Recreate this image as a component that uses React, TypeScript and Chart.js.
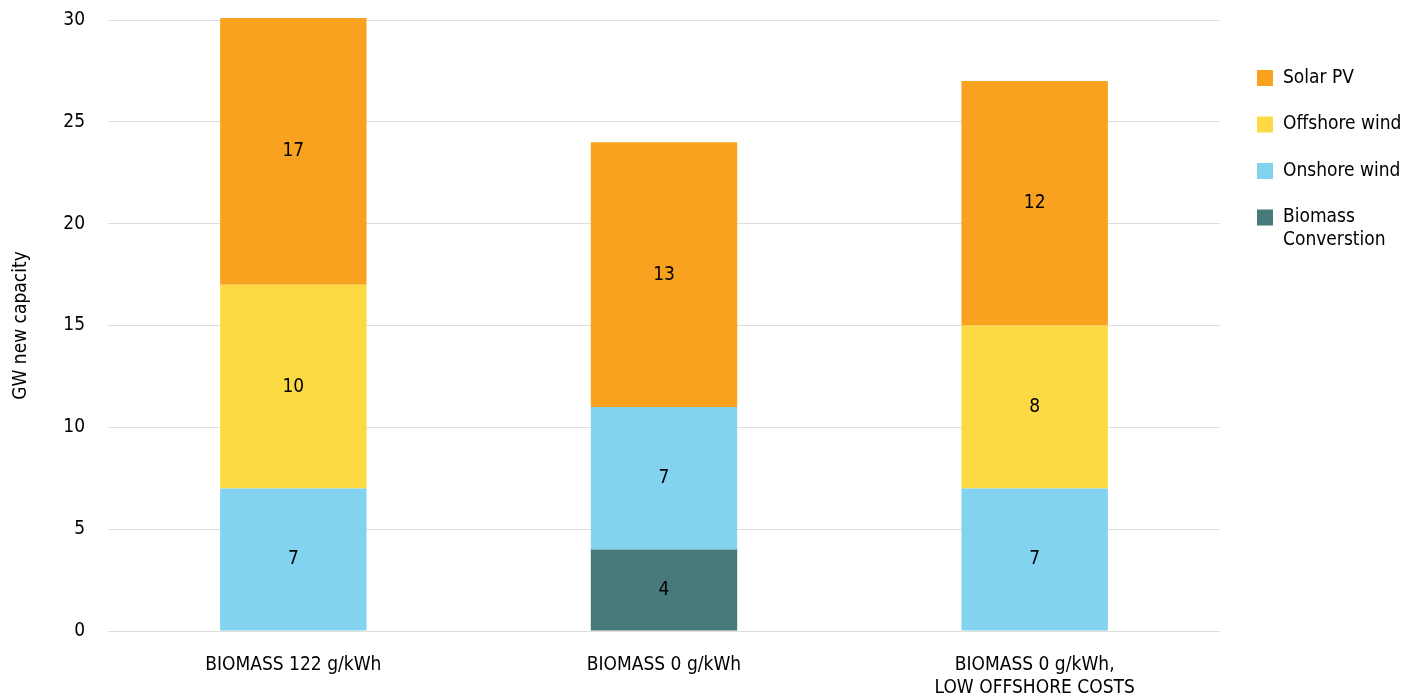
import { useEffect, useRef } from "react";
import { Chart, registerables } from "chart.js";

Chart.register(...registerables);

// Scenario categories (multi-line labels as arrays)
const categories: string[][] = [
  ["BIOMASS 122 g/kWh"],
  ["BIOMASS 0 g/kWh"],
  ["BIOMASS 0 g/kWh,", "LOW OFFSHORE COSTS"],
];

// New capacity per technology, GW (stacked bottom to top)
const biomassConversion = [0, 4, 0];
const onshoreWind = [7, 7, 7];
const offshoreWind = [10, 0, 8];
const solarPV = [17, 13, 12];

const yTicks = [0, 5, 10, 15, 20, 25, 30];

const seriesNames = ["Biomass Converstion", "Onshore wind", "Offshore wind", "Solar PV"];
const legendLines: string[][] = [
  ["Biomass", "Converstion"],
  ["Onshore wind"],
  ["Offshore wind"],
  ["Solar PV"],
];
const seriesColors = ["#48797B", "#83D3F0", "#FDD944", "#F9A21F"];

const FONT = "'Liberation Sans Narrow', 'DejaVu Sans Condensed', 'Roboto', sans-serif";
const TEXT = "#000000";

const segmentLabels = {
  id: "segmentLabels",
  afterDatasetsDraw(chart: any) {
    const { ctx, chartArea } = chart;
    ctx.save();
    ctx.font = `19px ${FONT}`;
    ctx.fillStyle = TEXT;
    ctx.textAlign = "center";
    ctx.textBaseline = "middle";
    chart.data.datasets.forEach((ds: any, di: number) => {
      const meta = chart.getDatasetMeta(di);
      meta.data.forEach((el: any, i: number) => {
        const v = ds.data[i];
        if (!v) return;
        const { x, y, base } = el.getProps(["x", "y", "base"], true);
        const top = Math.max(y, chartArea.top - 2);
        ctx.fillText(String(v), x, (top + base) / 2);
      });
    });
    ctx.restore();
  },
};

const sideLegend = {
  id: "sideLegend",
  afterDraw(chart: any) {
    const { ctx, chartArea } = chart;
    const boxX = chartArea.right + 37;
    const textX = boxX + 26;
    let y = chartArea.top + 58;
    const lineH = 23;
    ctx.save();
    ctx.font = `19px ${FONT}`;
    ctx.textAlign = "left";
    ctx.textBaseline = "middle";
    for (let k = seriesNames.length - 1; k >= 0; k--) {
      ctx.fillStyle = seriesColors[k];
      ctx.fillRect(boxX, y - 8, 16, 16);
      ctx.fillStyle = TEXT;
      legendLines[k].forEach((line, j) => ctx.fillText(line, textX, y + j * lineH));
      y += 46.5;
    }
    ctx.restore();
  },
};

export default function App() {
  const canvasRef = useRef<HTMLCanvasElement | null>(null);

  useEffect(() => {
    if (!canvasRef.current) return;
    const values = [biomassConversion, onshoreWind, offshoreWind, solarPV];
    const chart = new Chart(canvasRef.current, {
      type: "bar",
      data: {
        labels: categories,
        datasets: values.map((data, i) => ({
          label: seriesNames[i],
          data,
          backgroundColor: seriesColors[i],
          borderWidth: 0,
          barPercentage: 0.395,
          categoryPercentage: 1,
          clip: 2,
        })),
      },
      options: {
        animation: false,
        responsive: true,
        maintainAspectRatio: false,
        layout: { padding: { top: 20, right: 183, left: 0, bottom: 0 } },
        plugins: {
          legend: { display: false },
          tooltip: { enabled: false },
        },
        scales: {
          x: {
            stacked: true,
            grid: { display: false },
            border: { display: false },
            ticks: {
              color: TEXT,
              padding: 14,
              font: { family: FONT, size: 19, lineHeight: 1.22 },
              maxRotation: 0,
            },
            afterFit(scale: any) {
              scale.height = 69;
            },
          },
          y: {
            stacked: true,
            min: 0,
            max: 30,
            afterBuildTicks(scale: any) {
              scale.ticks = yTicks.map((v) => ({ value: v }));
            },
            grid: { color: "#DEDEDE", lineWidth: 1, drawTicks: false },
            border: { display: false },
            ticks: {
              color: TEXT,
              padding: 23,
              font: { family: FONT, size: 19 },
            },
            title: {
              display: true,
              text: "GW new capacity",
              color: TEXT,
              font: { family: FONT, size: 19 },
              padding: { top: 10, bottom: 0 },
            },
            afterFit(scale: any) {
              scale.width = 108;
              scale.paddingTop = 0;
              scale.paddingBottom = 0;
            },
          },
        },
      },
      plugins: [segmentLabels, sideLegend],
    });
    return () => chart.destroy();
  }, []);

  return (
    <div style={{ position: "fixed", left: 0, top: 0, width: 1403, height: 700, background: "#fff" }}>
      <canvas ref={canvasRef} />
    </div>
  );
}
